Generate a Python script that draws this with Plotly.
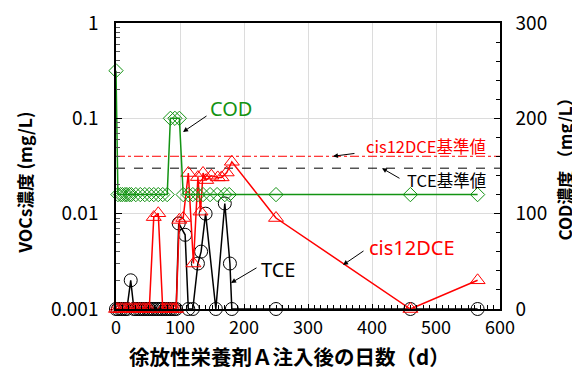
import math
import plotly.graph_objects as go

# ---------------- data ----------------
tce_days = [0, 3, 7, 10, 14, 17, 23, 28, 31, 35, 38, 42, 45, 49, 52, 56, 59, 63, 66, 70,
            73, 77, 80, 84, 87, 91, 94, 98, 108, 113, 120, 128, 133, 140, 156, 170, 178,
            181, 250, 460, 565]
tce_vals = [0.001, 0.001, 0.001, 0.001, 0.001, 0.001, 0.002, 0.001, 0.001, 0.001, 0.001,
            0.001, 0.001, 0.001, 0.001, 0.001, 0.001, 0.001, 0.001, 0.001, 0.001, 0.001,
            0.001, 0.001, 0.001, 0.001, 0.001, 0.0079, 0.006, 0.001, 0.001, 0.003, 0.004,
            0.0100, 0.001, 0.0128, 0.003, 0.001, 0.001, 0.001, 0.001]

dce_days = [0, 3, 7, 10, 14, 17, 21, 24, 28, 31, 35, 38, 42, 45, 49, 52, 59, 66, 73, 77,
            80, 84, 87, 91, 94, 99, 105, 113, 121, 128, 132, 136, 141, 149, 159, 165, 173,
            181, 250, 460, 565]
dce_vals = [0.001, 0.001, 0.001, 0.001, 0.001, 0.001, 0.001, 0.001, 0.001, 0.001, 0.001,
            0.001, 0.001, 0.001, 0.001, 0.001, 0.0092, 0.0101, 0.001, 0.001, 0.001, 0.001,
            0.001, 0.001, 0.001, 0.0086, 0.0090, 0.0267, 0.003, 0.0242, 0.0105, 0.0267,
            0.0225, 0.025, 0.024, 0.024, 0.027, 0.035, 0.009, 0.001, 0.002]

cod_days = [0, 3, 7, 10, 14, 17, 21, 24, 31, 38, 45, 52, 59, 66, 73, 80, 85, 92, 99, 105,
            113, 120, 128, 136, 147, 158, 170, 177, 250, 460, 565]
cod_vals = [250, 120, 120, 120, 120, 120, 120, 120, 120, 120, 120, 120, 120, 120, 120, 120,
            200, 200, 200, 120, 120, 120, 120, 120, 120, 120, 120, 120, 120, 120, 120]

dce_standard = 0.04
tce_standard = 0.03
std_span = [0, 600]

y_tick_vals = [0.001, 0.01, 0.1, 1]
y_tick_text = ["0.001", "0.01", "0.1", "1"]

RED = "#FF0000"
GREEN = "#139313"
BLACK = "#000000"
JP = "Noto Sans CJK JP"

fig = go.Figure()

fig.add_trace(go.Scatter(x=std_span, y=[dce_standard, dce_standard], mode="lines",
                         line=dict(color=RED, width=1, dash="dashdot"), hoverinfo="skip"))
fig.add_trace(go.Scatter(x=std_span, y=[tce_standard, tce_standard], mode="lines",
                         line=dict(color=BLACK, width=1, dash="dash"), hoverinfo="skip"))

fig.add_trace(go.Scatter(x=tce_days, y=tce_vals, mode="lines+markers", name="TCE",
                         line=dict(color=BLACK, width=1.5),
                         marker=dict(symbol="circle-open", size=13, color=BLACK,
                                     line=dict(width=1)),
                         cliponaxis=False))
fig.add_trace(go.Scatter(x=cod_days, y=cod_vals, mode="lines+markers", name="COD",
                         yaxis="y2",
                         line=dict(color=GREEN, width=1.5),
                         marker=dict(symbol="diamond-open", size=11, color=GREEN,
                                     line=dict(width=1)),
                         cliponaxis=False))
fig.add_trace(go.Scatter(x=dce_days, y=dce_vals, mode="lines+markers", name="cis12DCE",
                         line=dict(color=RED, width=1.5),
                         marker=dict(symbol="triangle-up-open", size=13, color=RED,
                                     line=dict(width=1)),
                         cliponaxis=False))

L = math.log10
annotations = [
    dict(x=180, y=-0.892, text="COD", font=dict(family="Noto Sans", size=20, color=GREEN)),
    dict(x=253, y=-2.59, text="TCE", font=dict(family="Noto Sans", size=20, color=BLACK)),
    dict(x=462, y=-2.35, text="cis12DCE", font=dict(family="Noto Sans", size=20, color=RED)),
    dict(x=484, y=-1.29, text="cis12DCE基準値", font=dict(family=JP, size=16.5, color=RED)),
    dict(x=516, y=-1.647, text="TCE基準値", font=dict(family=JP, size=16.5, color=BLACK)),
]
for a in annotations:
    a.update(xref="x", yref="y", showarrow=False, xanchor="center", yanchor="middle")

arrows = [
    dict(x=104.7, y=-1.143, ax=25, ay=-17),
    dict(x=179.7, y=-2.727, ax=27, ay=-16),
    dict(x=354.7, y=-2.538, ax=22, ay=-15),
    dict(x=339, y=L(dce_standard), ax=23, ay=-3),
    dict(x=415.6, y=L(tce_standard), ax=19, ay=11),
]
for a in arrows:
    a.update(xref="x", yref="y", text="", showarrow=True, arrowhead=2, arrowsize=1,
             arrowwidth=1, arrowcolor=BLACK, standoff=0)
    annotations.append(a)

annotations += [
    dict(xref="paper", yref="paper", x=-0.238, y=0.44, text="<b>VOCs濃度 (mg/L)</b>",
         textangle=-90, showarrow=False, xanchor="center", yanchor="middle",
         font=dict(family=JP, size=17.5, color=BLACK)),
    dict(xref="paper", yref="paper", x=1.169, y=0.505, text="<b>COD濃度 （mg/L）</b>",
         textangle=-90, showarrow=False, xanchor="center", yanchor="middle",
         font=dict(family=JP, size=17, color=BLACK)),
    dict(xref="paper", yref="paper", x=0.453, y=-0.165, text="<b>徐放性栄養剤Ａ注入後の日数（d）</b>",
         showarrow=False, xanchor="center", yanchor="middle",
         font=dict(family=JP, size=20.5, color=BLACK)),
]

fig.update_layout(
    width=580, height=370,
    margin=dict(l=108, r=88, t=15, b=69, autoexpand=False),
    paper_bgcolor="white", plot_bgcolor="white",
    showlegend=False,
    font=dict(family=JP, size=18, color=BLACK),
    xaxis=dict(range=[0, 600], tick0=0, dtick=100, ticks="inside", ticklen=5,
               tickcolor=BLACK, showline=True, linecolor=BLACK, linewidth=1.5,
               mirror=True, showgrid=True, gridcolor="#dcdcdc", zeroline=False,
               ticklabelstandoff=2, ticklabeloverflow="allow",
               tickfont=dict(family=JP, size=18),
               minor=dict(dtick=10, ticks="inside", ticklen=4, tickcolor=BLACK,
                          showgrid=False)),
    yaxis=dict(type="log", range=[-3, 0], tickvals=y_tick_vals, ticktext=y_tick_text,
               ticks="inside", ticklen=6, tickcolor=BLACK, showline=True,
               linecolor=BLACK, linewidth=1.5, mirror=True, showgrid=True,
               gridcolor="#dcdcdc", zeroline=False,
               ticklabelstandoff=12, ticklabeloverflow="allow",
               tickfont=dict(family=JP, size=19),
               minor=dict(dtick="D1", ticks="inside", ticklen=4, tickcolor="#555555",
                          showgrid=False)),
    yaxis2=dict(overlaying="y", side="right", range=[0, 300], tick0=0, dtick=100,
                ticks="inside", ticklen=6, tickcolor=BLACK, showline=True,
                linecolor=BLACK, linewidth=1.5, showgrid=False, zeroline=False,
                ticklabelstandoff=10, ticklabeloverflow="allow",
                tickfont=dict(family=JP, size=19),
                minor=dict(dtick=20, ticks="inside", ticklen=4, tickcolor=BLACK)),
    annotations=annotations,
)

fig.write_html("out.html")
